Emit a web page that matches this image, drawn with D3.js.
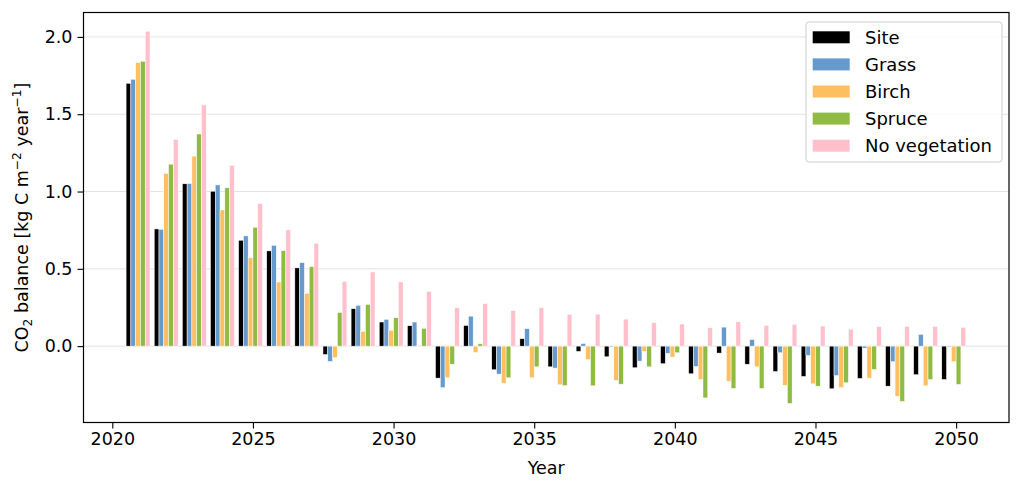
<!DOCTYPE html>
<html>
<head>
<meta charset="utf-8">
<script src="https://cdn.jsdelivr.net/npm/d3@7"></script>
<style>
  html, body { margin: 0; padding: 0; background: #fff; }
  svg { display: block; font-family: "DejaVu Sans", sans-serif; }
</style>
</head>
<body>
<svg id="chart" width="1024" height="491"></svg>
<script>
const years = [2021,2022,2023,2024,2025,2026,2027,2028,2029,2030,2031,2032,2033,2034,2035,2036,2037,2038,2039,2040,2041,2042,2043,2044,2045,2046,2047,2048,2049,2050];
const seriesNames = ["Site", "Grass", "Birch", "Spruce", "No vegetation"];
const seriesColors = ["#000000", "#6699cc", "#fdbf60", "#8fbb43", "#ffc0cb"];
const site   = [1.700,0.758,1.050,1.002,0.685,0.616,0.506,-0.054,0.242,0.156,0.132,-0.207,0.134,-0.153,0.048,-0.134,-0.034,-0.069,-0.140,-0.114,-0.179,-0.045,-0.117,-0.164,-0.196,-0.276,-0.209,-0.259,-0.185,-0.216];
const grass  = [1.726,0.756,1.052,1.043,0.713,0.652,0.540,-0.099,0.264,0.173,0.156,-0.268,0.194,-0.181,0.113,-0.142,0.017,-0.006,-0.097,-0.047,-0.132,0.123,0.043,-0.043,-0.060,-0.190,-0.013,-0.101,0.076,-0.006];
const birch  = [1.834,1.117,1.229,0.881,0.572,0.415,0.342,-0.075,0.095,0.102,0.003,-0.205,-0.041,-0.240,-0.205,-0.250,-0.086,-0.222,-0.034,-0.071,-0.216,-0.227,-0.134,-0.253,-0.244,-0.268,-0.207,-0.324,-0.257,-0.101];
const spruce = [1.843,1.177,1.372,1.024,0.769,0.618,0.514,0.218,0.270,0.184,0.115,-0.117,0.015,-0.205,-0.134,-0.255,-0.257,-0.246,-0.134,-0.043,-0.335,-0.274,-0.274,-0.371,-0.259,-0.237,-0.151,-0.358,-0.216,-0.248];
const noveg  = [2.037,1.337,1.560,1.169,0.922,0.752,0.666,0.419,0.480,0.415,0.355,0.249,0.275,0.231,0.249,0.205,0.207,0.175,0.152,0.143,0.119,0.158,0.134,0.141,0.130,0.110,0.126,0.128,0.128,0.121];
const xTicks = [2020,2025,2030,2035,2040,2045,2050];
const yTicks = [0.0,0.5,1.0,1.5,2.0];

const seriesValues = [site, grass, birch, spruce, noveg];
const barW = 0.17;

const L = 83.5, R = 1009, T = 12.5, B = 422.5;
const svg = d3.select("#chart");
const x = d3.scaleLinear().domain([2018.976, 2051.88]).range([L, R]);
const y = d3.scaleLinear().domain([-0.494, 2.158]).range([B, T]);

// gridlines
svg.append("g").selectAll("line").data(yTicks).join("line")
  .attr("x1", L).attr("x2", R)
  .attr("y1", d => y(d)).attr("y2", d => y(d))
  .attr("stroke", "#e3e3e3").attr("stroke-width", 1);

// bars
seriesValues.forEach((vals, i) => {
  svg.append("g").selectAll("rect").data(vals).join("rect")
    .attr("x", (d, j) => x(years[j] + (i - 3) * barW))
    .attr("width", x(barW) - x(0))
    .attr("y", d => y(Math.max(0, d)))
    .attr("height", d => Math.abs(y(d) - y(0)))
    .attr("fill", seriesColors[i])
    .attr("stroke", "#ffffff").attr("stroke-width", 0.5);
});

// axes
const fs = 17.5;
const xAxis = svg.append("g").attr("transform", `translate(0,${B})`)
  .call(d3.axisBottom(x).tickValues(xTicks).tickFormat(d3.format("d")).tickSize(6).tickPadding(4));
const yAxis = svg.append("g").attr("transform", `translate(${L},0)`)
  .call(d3.axisLeft(y).tickValues(yTicks).tickFormat(d3.format(".1f")).tickSize(6).tickPadding(5));
[xAxis, yAxis].forEach(a => {
  a.select(".domain").remove();
  a.selectAll("line").attr("stroke", "#000").attr("stroke-width", 1.1);
  a.selectAll("text").attr("font-size", fs).attr("fill", "#000")
    .attr("font-family", "DejaVu Sans");
});

// frame
svg.append("rect").attr("x", L).attr("y", T).attr("width", R - L).attr("height", B - T)
  .attr("fill", "none").attr("stroke", "#000").attr("stroke-width", 1.2);

// axis labels
svg.append("text").attr("x", (L + R) / 2).attr("y", 473.5).attr("text-anchor", "middle")
  .attr("font-size", fs).attr("fill", "#000").text("Year");

const yl = svg.append("text")
  .attr("transform", `translate(28,${(T + B) / 2}) rotate(-90)`)
  .attr("text-anchor", "middle").attr("font-size", fs).attr("fill", "#000");
yl.append("tspan").text("CO");
yl.append("tspan").attr("font-size", fs * 0.7).attr("dy", 4).text("2");
yl.append("tspan").attr("dy", -4).text(" balance [kg C m");
yl.append("tspan").attr("font-size", fs * 0.7).attr("dy", -7).text("\u22122");
yl.append("tspan").attr("dy", 7).text(" year");
yl.append("tspan").attr("font-size", fs * 0.7).attr("dy", -7).text("\u22121");
yl.append("tspan").attr("dy", 7).text("]");

// legend
const lg = svg.append("g");
lg.append("rect").attr("x", 806).attr("y", 22).attr("width", 196).attr("height", 140)
  .attr("rx", 3).attr("fill", "#fff").attr("fill-opacity", 0.85)
  .attr("stroke", "#cccccc").attr("stroke-width", 1);
seriesNames.forEach((name, i) => {
  const cy = 37.3 + i * 27.1;
  lg.append("rect").attr("x", 812.7).attr("y", cy - 6).attr("width", 37).attr("height", 12)
    .attr("fill", seriesColors[i]);
  lg.append("text").attr("x", 865).attr("y", cy).attr("dy", "0.35em")
    .attr("font-size", 18).attr("fill", "#000").text(name);
});
</script>
</body>
</html>
